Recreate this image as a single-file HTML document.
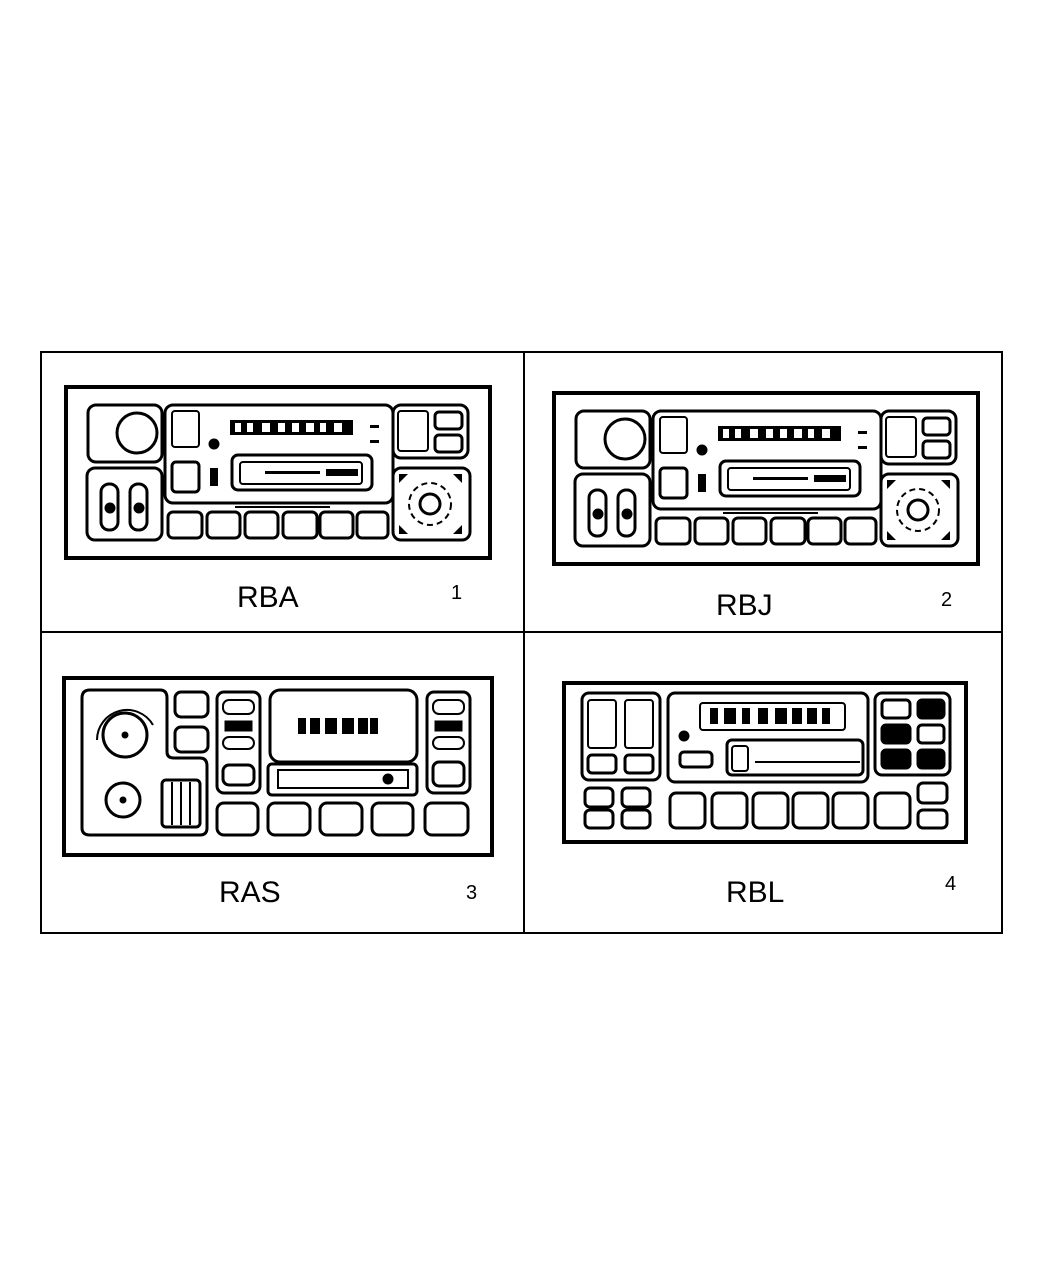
<!DOCTYPE html>
<html><head><style>
html,body{margin:0;padding:0;background:#fff;}
svg{display:block;}
text{font-family:"Liberation Sans",sans-serif;}
</style></head><body>
<svg width="1050" height="1275" viewBox="0 0 1050 1275" xmlns="http://www.w3.org/2000/svg">
<defs>
<g id="rb" fill="none" stroke="#000" stroke-width="3">
  <rect x="66" y="387" width="424" height="171" stroke-width="4"/>
  <rect x="88" y="405" width="74" height="57" rx="8"/>
  <circle cx="137" cy="433" r="20"/>
  <rect x="87" y="468" width="75" height="72" rx="8"/>
  <rect x="101" y="484" width="17" height="46" rx="8"/>
  <rect x="130" y="484" width="17" height="46" rx="8"/>
  <circle cx="110" cy="508" r="4" fill="#000"/>
  <circle cx="139" cy="508" r="4" fill="#000"/>
  <rect x="165" y="405" width="228" height="98" rx="8"/>
  <rect x="172" y="411" width="27" height="36" rx="3" stroke-width="2"/>
  <rect x="172" y="462" width="27" height="30" rx="4"/>
  <circle cx="214" cy="444" r="4" fill="#000"/>
  <rect x="230" y="420" width="123" height="15" fill="#000" stroke="none"/>
  <g fill="#fff" stroke="none">
    <rect x="235" y="423" width="6" height="9"/><rect x="247" y="423" width="6" height="9"/><rect x="262" y="423" width="8" height="9"/><rect x="278" y="423" width="7" height="9"/><rect x="292" y="423" width="7" height="9"/><rect x="306" y="423" width="8" height="9"/><rect x="320" y="423" width="6" height="9"/><rect x="334" y="423" width="8" height="9"/>
  </g>
  <rect x="370" y="425" width="9" height="3" fill="#000" stroke="none"/>
  <rect x="370" y="440" width="9" height="3" fill="#000" stroke="none"/>
  <rect x="232" y="455" width="140" height="35" rx="6"/>
  <rect x="240" y="462" width="122" height="22" rx="3" stroke-width="2"/>
  <rect x="326" y="469" width="32" height="7" fill="#000" stroke="none"/>
  <rect x="265" y="471" width="55" height="3" fill="#000" stroke="none"/>
  <rect x="210" y="468" width="8" height="18" fill="#000" stroke="none"/>
  <rect x="393" y="405" width="75" height="53" rx="8"/>
  <rect x="398" y="411" width="30" height="40" rx="3" stroke-width="2"/>
  <rect x="435" y="412" width="27" height="17" rx="4"/>
  <rect x="435" y="435" width="27" height="17" rx="4"/>
  <rect x="393" y="468" width="77" height="72" rx="8"/>
  <circle cx="430" cy="504" r="21" stroke-width="2" stroke-dasharray="6 4"/>
  <circle cx="430" cy="504" r="10"/>
  <path d="M399 474 l9 0 l-9 9z M462 474 l-9 0 l9 9z M399 534 l9 0 l-9 -9z M462 534 l-9 0 l9 -9z" fill="#000" stroke="none"/>
  <rect x="168" y="512" width="34" height="26" rx="5"/>
  <rect x="207" y="512" width="33" height="26" rx="5"/>
  <rect x="245" y="512" width="33" height="26" rx="5"/>
  <rect x="283" y="512" width="34" height="26" rx="5"/>
  <rect x="320" y="512" width="33" height="26" rx="5"/>
  <rect x="357" y="512" width="31" height="26" rx="5"/>
  <rect x="235" y="506" width="95" height="2" fill="#000" stroke="none"/>
</g>
</defs>
<rect x="41" y="352" width="961" height="581" fill="none" stroke="#000" stroke-width="2"/>
<line x1="524" y1="352" x2="524" y2="933" stroke="#000" stroke-width="2"/>
<line x1="41" y1="632" x2="1002" y2="632" stroke="#000" stroke-width="2"/>

<use href="#rb"/>
<use href="#rb" transform="translate(488,6)"/>

<!-- RAS -->
<g fill="none" stroke="#000" stroke-width="3">
  <rect x="64" y="678" width="428" height="177" stroke-width="4"/>
  <path d="M90 690 H160 Q167 690 167 698 V752 Q167 758 174 758 H200 Q207 758 207 766 V828 Q207 835 200 835 H90 Q82 835 82 828 V698 Q82 690 90 690Z"/>
  <circle cx="125" cy="735" r="22"/>
  <circle cx="125" cy="735" r="2" fill="#000"/>
  <path d="M97 740 A30 30 0 0 1 153 725" stroke-width="2"/>
  <circle cx="123" cy="800" r="17"/>
  <circle cx="123" cy="800" r="2" fill="#000"/>
  <rect x="162" y="780" width="38" height="47" rx="4"/>
  <line x1="172" y1="782" x2="172" y2="825" stroke-width="2"/>
  <line x1="181" y1="782" x2="181" y2="825" stroke-width="2"/>
  <line x1="190" y1="782" x2="190" y2="825" stroke-width="2"/>
  <rect x="175" y="692" width="33" height="25" rx="6"/>
  <rect x="175" y="727" width="33" height="25" rx="6"/>
  <rect x="217" y="692" width="43" height="101" rx="7"/>
  <rect x="223" y="700" width="31" height="14" rx="6" stroke-width="2"/>
  <rect x="226" y="722" width="25" height="8" fill="#000"/>
  <rect x="223" y="737" width="31" height="12" rx="6" stroke-width="2"/>
  <rect x="223" y="765" width="31" height="20" rx="6"/>
  <rect x="270" y="690" width="147" height="72" rx="10"/>
  <g fill="#000" stroke="none"><rect x="298" y="718" width="8" height="16"/><rect x="310" y="718" width="10" height="16"/><rect x="325" y="718" width="12" height="16"/><rect x="342" y="718" width="12" height="16"/><rect x="358" y="718" width="10" height="16"/><rect x="370" y="718" width="8" height="16"/></g>
  <rect x="268" y="764" width="149" height="31" rx="4"/>
  <rect x="278" y="770" width="130" height="18" stroke-width="2"/>
  <circle cx="388" cy="779" r="4" fill="#000"/>
  <rect x="427" y="692" width="43" height="101" rx="7"/>
  <rect x="433" y="700" width="31" height="14" rx="6" stroke-width="2"/>
  <rect x="436" y="722" width="25" height="8" fill="#000"/>
  <rect x="433" y="737" width="31" height="12" rx="6" stroke-width="2"/>
  <rect x="433" y="762" width="31" height="24" rx="6"/>
  <rect x="217" y="803" width="41" height="32" rx="7"/>
  <rect x="268" y="803" width="42" height="32" rx="7"/>
  <rect x="320" y="803" width="42" height="32" rx="7"/>
  <rect x="372" y="803" width="41" height="32" rx="7"/>
  <rect x="425" y="803" width="43" height="32" rx="7"/>
</g>

<!-- RBL -->
<g fill="none" stroke="#000" stroke-width="3">
  <rect x="564" y="683" width="402" height="159" stroke-width="4"/>
  <rect x="582" y="693" width="78" height="87" rx="7"/>
  <rect x="588" y="700" width="28" height="48" rx="3" stroke-width="2"/>
  <rect x="625" y="700" width="28" height="48" rx="3" stroke-width="2"/>
  <rect x="588" y="755" width="28" height="18" rx="4"/>
  <rect x="625" y="755" width="28" height="18" rx="4"/>
  <rect x="668" y="693" width="200" height="89" rx="7"/>
  <rect x="700" y="703" width="145" height="27" rx="3" stroke-width="2"/>
  <g fill="#000" stroke="none"><rect x="710" y="708" width="8" height="16"/><rect x="724" y="708" width="12" height="16"/><rect x="742" y="708" width="8" height="16"/><rect x="758" y="708" width="10" height="16"/><rect x="775" y="708" width="12" height="16"/><rect x="792" y="708" width="10" height="16"/><rect x="807" y="708" width="10" height="16"/><rect x="822" y="708" width="8" height="16"/></g>
  <circle cx="684" cy="736" r="4" fill="#000"/>
  <rect x="680" y="752" width="32" height="15" rx="4"/>
  <rect x="727" y="740" width="136" height="35" rx="5"/>
  <rect x="732" y="746" width="16" height="25" rx="3" stroke-width="2"/>
  <line x1="755" y1="762" x2="860" y2="762" stroke-width="2"/>
  <rect x="875" y="693" width="75" height="82" rx="7"/>
  <rect x="882" y="700" width="28" height="18" rx="4"/>
  <rect x="918" y="700" width="26" height="18" rx="4" fill="#000"/>
  <rect x="882" y="725" width="28" height="18" rx="4" fill="#000"/>
  <rect x="918" y="725" width="26" height="18" rx="4"/>
  <rect x="882" y="750" width="28" height="18" rx="4" fill="#000"/>
  <rect x="918" y="750" width="26" height="18" rx="4" fill="#000"/>
  <rect x="585" y="788" width="28" height="19" rx="5"/>
  <rect x="622" y="788" width="28" height="19" rx="5"/>
  <rect x="585" y="810" width="28" height="18" rx="5"/>
  <rect x="622" y="810" width="28" height="18" rx="5"/>
  <rect x="670" y="793" width="35" height="35" rx="6"/>
  <rect x="712" y="793" width="35" height="35" rx="6"/>
  <rect x="753" y="793" width="35" height="35" rx="6"/>
  <rect x="793" y="793" width="35" height="35" rx="6"/>
  <rect x="833" y="793" width="35" height="35" rx="6"/>
  <rect x="875" y="793" width="35" height="35" rx="6"/>
  <rect x="918" y="783" width="29" height="20" rx="5"/>
  <rect x="918" y="810" width="29" height="18" rx="5"/>
</g>

<g font-size="30" fill="#000">
<text x="237" y="607">RBA</text>
<text x="716" y="615">RBJ</text>
<text x="219" y="902">RAS</text>
<text x="726" y="902">RBL</text>
</g>
<g font-size="20" fill="#000">
<text x="451" y="599">1</text>
<text x="941" y="606">2</text>
<text x="466" y="899">3</text>
<text x="945" y="890">4</text>
</g>
</svg>
</body></html>
